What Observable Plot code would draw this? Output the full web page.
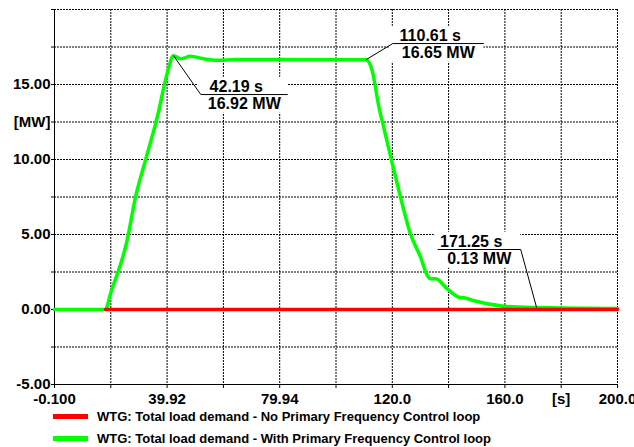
<!DOCTYPE html>
<html>
<head>
<meta charset="utf-8">
<script src="https://cdn.jsdelivr.net/npm/d3@7"></script>
<script src="https://cdn.jsdelivr.net/npm/@observablehq/plot@0.6"></script>
<style>
  html, body { margin: 0; padding: 0; background: #fff; }
  #chart svg { display: block; }
  .legend { font-family: "Liberation Sans", Arial, sans-serif; font-weight: bold; font-size: 13px; color: #000; margin-top: -5px; }
  .row { height: 22px; display: flex; align-items: center; }
  .sw { width: 35px; height: 5px; margin-left: 53px; margin-right: 9px; }
</style>
</head>
<body>
<div id="chart"></div>
<div class="legend" id="legend"></div>
<script>
// ---- data ----
const seriesNames = [
  "WTG: Total load demand - No Primary Frequency Control loop",
  "WTG: Total load demand - With Primary Frequency Control loop"
];
const seriesColors = ["#ff0000", "#00ff00"];

const redT = [18.0, 60, 100, 150, 200];
const redV = [0, 0, 0, 0, 0];

const greenT = [-0.1, 18.0, 19.8, 25.7, 28.7, 32.2, 36.4, 39.9, 42.19, 44.7, 48.2, 53, 57.7, 64.8, 80, 100, 110.61,
  112.8, 115.2, 116.9, 119.7, 122.3, 126.4, 130.0, 132.4, 133.5, 135.3, 139.5, 143.6, 145.4, 149, 153.7, 159.6, 165,
  171.25, 180, 190, 200];
const greenV = [0, 0, 1.05, 4.6, 7.5, 9.93, 12.8, 15.7, 16.92, 16.71, 16.89, 16.71, 16.62, 16.66, 16.66, 16.65, 16.65,
  15.93, 13.5, 12.15, 9.93, 7.93, 5.05, 3.49, 2.27, 2.05, 2.05, 1.38, 0.82, 0.78, 0.58, 0.38, 0.22, 0.16,
  0.13, 0.1, 0.08, 0.07];

const xTicks = [-0.1, 19.91, 39.92, 59.93, 79.94, 99.95, 119.96, 139.97, 159.98, 179.99, 200];
const xTickLabels = ["-0.100", "", "39.92", "", "79.94", "", "120.0", "", "160.0", "[s]", "200.0"];
const yTicks = [-5, -2.5, 0, 2.5, 5, 7.5, 10, 12.5, 15, 17.5, 20];
const yTickLabels = ["-5.00", "", "0.00", "", "5.00", "", "10.00", "[MW]", "15.00", "", ""];

// annotations
const annT = [42.19, 110.61, 171.25];
const annV = [16.92, 16.65, 0.13];
const annTop = ["42.19 s", "110.61 s", "171.25 s"];
const annBot = ["16.92 MW", "16.65 MW", "0.13 MW"];
const annX1 = [51.9, 120.1, 136.1];
const annX2 = [82.8, 152.5, 165.6];
const annY = [14.33, 17.73, 4.0];
const annLeadEnd = ["x1", "x1", "x2"];

// ---- build tables ----
const red = redT.map((t, i) => ({t, v: redV[i]}));
const green = greenT.map((t, i) => ({t, v: greenV[i]}));
const ann = annT.map((t, i) => ({
  t, v: annV[i], top: annTop[i], bot: annBot[i],
  x1: annX1[i], x2: annX2[i], y: annY[i],
  xm: (annX1[i] + annX2[i]) / 2,
  lx: annLeadEnd[i] === "x1" ? annX1[i] : annX2[i]
}));
const xLab = new Map(xTicks.map((d, i) => [d, xTickLabels[i]]));
const yLab = new Map(yTicks.map((d, i) => [d, yTickLabels[i]]));

const font = "'Liberation Sans', Arial, sans-serif";
const grid = {stroke: "#000", strokeOpacity: 1, strokeWidth: 1, strokeDasharray: "2,1"};

const chart = Plot.plot({
  width: 634,
  height: 410,
  marginLeft: 54,
  marginRight: 17,
  marginTop: 9,
  marginBottom: 26,
  style: {fontFamily: font, background: "#fff", color: "#000"},
  x: {domain: [-0.1, 200], axis: null},
  y: {domain: [-5, 20], axis: null},
  marks: [
    Plot.gridX(xTicks, grid),
    Plot.gridY(yTicks, grid),
    // label boxes (white background)
    Plot.rect(ann, {x1: d => d.x1 - 1.2, x2: "x2", y1: d => d.y - 1.25, y2: d => d.y + 1.15, fill: "#fff"}),
    Plot.ruleX([-0.1], {stroke: "#000", strokeWidth: 1}),
    Plot.ruleY([-5], {stroke: "#000", strokeWidth: 1}),
    Plot.axisX(xTicks, {tickSize: 4, tickPadding: 5, fontSize: 15, fontWeight: "bold",
      tickFormat: d => xLab.get(d), stroke: "#000"}),
    Plot.axisY(yTicks, {tickSize: 3, tickPadding: 1, fontSize: 15, fontWeight: "bold",
      tickFormat: d => yLab.get(d), stroke: "#000"}),
    Plot.line(green, {x: "t", y: "v", stroke: seriesColors[1], strokeWidth: 3.5, curve: "monotone-x"}),
    Plot.line(red, {x: "t", y: "v", stroke: seriesColors[0], strokeWidth: 3.5}),
    // leader lines
    Plot.link(ann, {x1: "t", y1: "v", x2: "lx", y2: "y", stroke: "#000", strokeWidth: 1}),
    Plot.link(ann, {x1: "x1", y1: "y", x2: "x2", y2: "y", stroke: "#000", strokeWidth: 1}),
    Plot.text(ann, {x: "xm", y: "y", text: "top", dx: -8, dy: -8, fontSize: 16, fontWeight: "bold", fill: "#000"}),
    Plot.text(ann, {x: "xm", y: "y", text: "bot", dx: 0, dy: 9, fontSize: 16, fontWeight: "bold", fill: "#000"})
  ]
});
document.getElementById("chart").appendChild(chart);

const legend = document.getElementById("legend");
seriesNames.forEach((name, i) => {
  const row = document.createElement("div");
  row.className = "row";
  const sw = document.createElement("span");
  sw.className = "sw";
  sw.style.background = seriesColors[i];
  const tx = document.createElement("span");
  tx.textContent = name;
  row.appendChild(sw);
  row.appendChild(tx);
  legend.appendChild(row);
});
</script>
</body>
</html>
